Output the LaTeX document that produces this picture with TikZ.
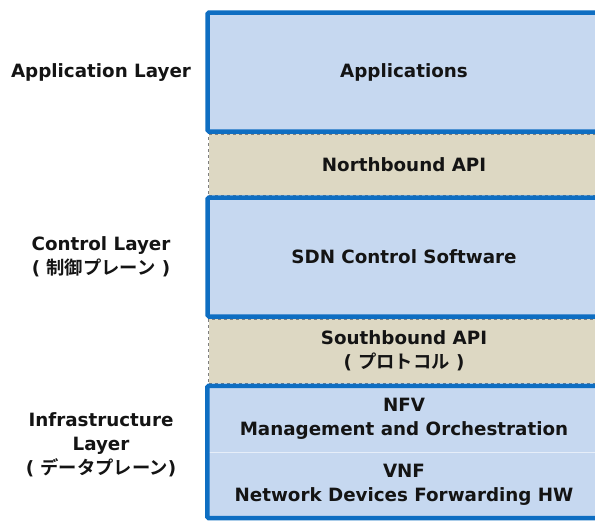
\documentclass[tikz,border=0pt]{standalone}
\usepackage{fontspec}
\setmainfont{DejaVu Sans}
\newfontfamily\jp{Noto Sans CJK JP}[BoldFont={Noto Sans CJK JP Bold}]
\definecolor{layerblue}{HTML}{C6D8F0}
\definecolor{edgeblue}{HTML}{0E6EC2}
\definecolor{apibeige}{HTML}{DDD8C3}
\definecolor{apiedge}{HTML}{7F7F7F}
\definecolor{splitline}{HTML}{E6EEF9}

\begin{document}
\begin{tikzpicture}[x=1pt,y=-1pt,
	every node/.style={font=\bfseries\fontsize{18.3}{24}\selectfont,align=center,text=black!92},
	layerbox/.style={draw=edgeblue,line width=4.5pt,rounded corners=1.5pt,fill=layerblue,minimum width=393pt,inner sep=0pt},
	apibox/.style={draw=apiedge,dashed,line width=0.7pt,fill=apibeige,minimum width=391pt,inner sep=0pt},
	subbox/.style={fill=layerblue,minimum width=393pt,inner sep=0pt},
	label/.style={}]
	\useasboundingbox (0,0) rectangle (595,520);
	\clip (0,0) rectangle (595,520);
			% stacked layers
			\node[apibox,minimum height=61pt]  (nbapi) at (404,164.5) {Northbound API};
			\node[apibox,minimum height=64pt]  (sbapi) at (404,351) {Southbound API\\( {\jp プロトコル} )};
			\node[layerbox,minimum height=119pt] (apps) at (404,72) {Applications};
			\node[layerbox,minimum height=119pt] (sdn)  at (404,257) {SDN Control Software};
			\node[subbox,minimum height=66pt]  (nfv)  at (404,419) {NFV\\Management and Orchestration};
			\node[subbox,minimum height=66pt]  (vnf)  at (404,485) {VNF\\Network Devices Forwarding HW};
			\draw[splitline,line width=1pt] (nfv.south west) -- (nfv.south east);
			\draw[edgeblue,line width=4.5pt,rounded corners=1.5pt] (nfv.north west) rectangle (vnf.south east);
			% layer names
			\node[label] (applayer) at (101,73) {Application Layer};
			\node[label] (ctllayer) at (101,257) {Control Layer\\( {\jp 制御プレーン} )};
			\node[label] (infralayer) at (101,445) {Infrastructure\\Layer\\( {\jp データプレーン})};
			\end{tikzpicture}
\end{document}
